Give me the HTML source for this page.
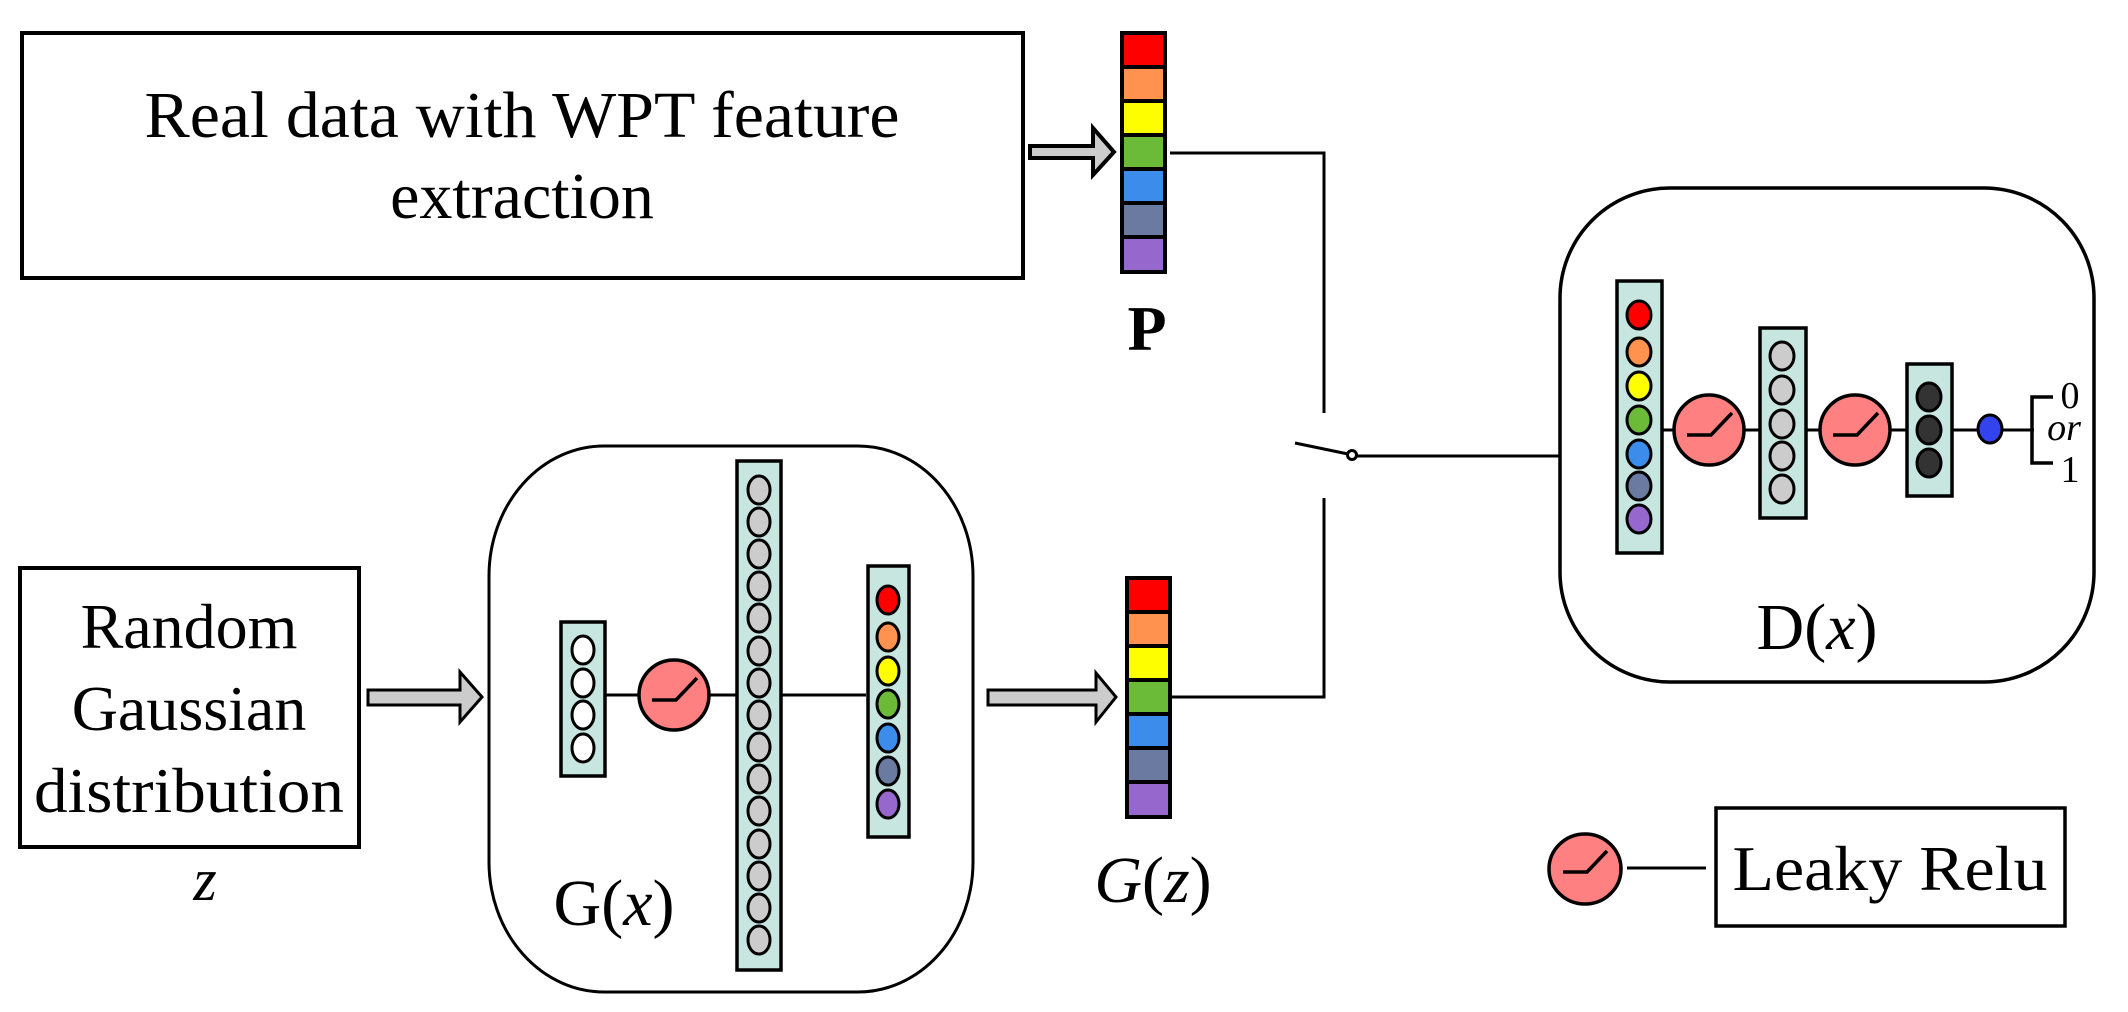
<!DOCTYPE html>
<html><head><meta charset="utf-8"><style>html,body{margin:0;padding:0;background:#fff}svg{display:block}</style></head>
<body>
<svg width="2128" height="1012" viewBox="0 0 2128 1012" xmlns="http://www.w3.org/2000/svg" font-family="'Liberation Serif', serif">
<defs>
<g id="relu">
<circle r="35" fill="#fe8080" stroke="#000" stroke-width="3.5"/>
<polyline points="-22,5 2,5 23,-17" fill="none" stroke="#000" stroke-width="3.5"/>
</g>
</defs>
<rect x="22" y="33" width="1001" height="245" fill="#fff" stroke="#000" stroke-width="4"/>
<text x="522" y="137" font-size="66" text-anchor="middle" textLength="755" lengthAdjust="spacingAndGlyphs">Real data with WPT feature</text>
<text x="522" y="218" font-size="66" text-anchor="middle">extraction</text>
<polygon points="1030,146 1093,146 1093,128 1114,152 1093,175 1093,158 1030,158" fill="#ccc" stroke="#000" stroke-width="4"/>
<g stroke="#000" stroke-width="4">
<rect x="1122" y="33" width="43" height="34" fill="#fe0000"/>
<rect x="1122" y="67" width="43" height="34" fill="#fe924e"/>
<rect x="1122" y="101" width="43" height="34" fill="#fefe00"/>
<rect x="1122" y="135" width="43" height="34" fill="#6bbb38"/>
<rect x="1122" y="169" width="43" height="34" fill="#3c8ceb"/>
<rect x="1122" y="203" width="43" height="34" fill="#6b7aa1"/>
<rect x="1122" y="237" width="43" height="35" fill="#9667cd"/>
</g>
<text x="1147" y="350" font-size="64" font-weight="bold" text-anchor="middle">P</text>
<polyline points="1170,153 1324,153 1324,413" fill="none" stroke="#000" stroke-width="3"/>
<polyline points="1170,697 1324,697 1324,498" fill="none" stroke="#000" stroke-width="3"/>
<line x1="1295" y1="443" x2="1348" y2="454" stroke="#000" stroke-width="3"/>
<circle cx="1352" cy="455" r="4.5" fill="#fff" stroke="#000" stroke-width="3"/>
<line x1="1357" y1="456" x2="1560" y2="456" stroke="#000" stroke-width="3"/>
<rect x="20" y="568" width="339" height="279" fill="#fff" stroke="#000" stroke-width="4"/>
<text x="189" y="648" font-size="64" text-anchor="middle">Random</text>
<text x="189" y="730" font-size="64" text-anchor="middle">Gaussian</text>
<text x="189" y="812" font-size="64" text-anchor="middle" textLength="310" lengthAdjust="spacingAndGlyphs">distribution</text>
<text x="205" y="900" font-size="60" font-style="italic" text-anchor="middle">z</text>
<polygon points="368,690 460,690 460,672 482,697 460,722 460,705 368,705" fill="#ccc" stroke="#000" stroke-width="3"/>
<rect x="489" y="446" width="484" height="546" rx="115" ry="130" fill="#fff" stroke="#000" stroke-width="3"/>
<line x1="605" y1="695" x2="866" y2="695" stroke="#000" stroke-width="3"/>
<rect x="561" y="622" width="44" height="154" fill="#c8e6e0" stroke="#000" stroke-width="3.5"/>
<g fill="#fff" stroke="#000" stroke-width="3">
<ellipse cx="583" cy="650" rx="11" ry="14"/><ellipse cx="583" cy="683" rx="11" ry="14"/>
<ellipse cx="583" cy="715" rx="11" ry="14"/><ellipse cx="583" cy="748" rx="11" ry="14"/>
</g>
<use href="#relu" x="674" y="695"/>
<rect x="737" y="461" width="44" height="509" fill="#c8e6e0" stroke="#000" stroke-width="3.5"/>
<g fill="#ccc" stroke="#000" stroke-width="3">
<ellipse cx="759" cy="490" rx="11" ry="14"/><ellipse cx="759" cy="522" rx="11" ry="14"/>
<ellipse cx="759" cy="554" rx="11" ry="14"/><ellipse cx="759" cy="586" rx="11" ry="14"/>
<ellipse cx="759" cy="618" rx="11" ry="14"/><ellipse cx="759" cy="651" rx="11" ry="14"/>
<ellipse cx="759" cy="683" rx="11" ry="14"/><ellipse cx="759" cy="715" rx="11" ry="14"/>
<ellipse cx="759" cy="747" rx="11" ry="14"/><ellipse cx="759" cy="779" rx="11" ry="14"/>
<ellipse cx="759" cy="811" rx="11" ry="14"/><ellipse cx="759" cy="844" rx="11" ry="14"/>
<ellipse cx="759" cy="876" rx="11" ry="14"/><ellipse cx="759" cy="908" rx="11" ry="14"/>
<ellipse cx="759" cy="940" rx="11" ry="14"/>
</g>
<rect x="868" y="566" width="41" height="271" fill="#c8e6e0" stroke="#000" stroke-width="3.5"/>
<g stroke="#000" stroke-width="3">
<ellipse cx="888" cy="600" rx="11" ry="14" fill="#fe0000"/>
<ellipse cx="888" cy="637" rx="11" ry="14" fill="#fe924e"/>
<ellipse cx="888" cy="671" rx="11" ry="14" fill="#fefe00"/>
<ellipse cx="888" cy="704" rx="11" ry="14" fill="#6bbb38"/>
<ellipse cx="888" cy="738" rx="11" ry="14" fill="#3c8ceb"/>
<ellipse cx="888" cy="771" rx="11" ry="14" fill="#6b7aa1"/>
<ellipse cx="888" cy="804" rx="11" ry="14" fill="#9667cd"/>
</g>
<text x="614" y="925" font-size="66" text-anchor="middle">G(<tspan font-style="italic">x</tspan>)</text>
<polygon points="988,690 1096,690 1096,673 1116,697 1096,722 1096,705 988,705" fill="#ccc" stroke="#000" stroke-width="3"/>
<g stroke="#000" stroke-width="4">
<rect x="1127" y="578" width="43" height="34" fill="#fe0000"/>
<rect x="1127" y="612" width="43" height="34" fill="#fe924e"/>
<rect x="1127" y="646" width="43" height="34" fill="#fefe00"/>
<rect x="1127" y="680" width="43" height="34" fill="#6bbb38"/>
<rect x="1127" y="714" width="43" height="34" fill="#3c8ceb"/>
<rect x="1127" y="748" width="43" height="34" fill="#6b7aa1"/>
<rect x="1127" y="782" width="43" height="35" fill="#9667cd"/>
</g>
<text x="1153" y="902" font-size="66" text-anchor="middle"><tspan font-style="italic">G</tspan>(<tspan font-style="italic">z</tspan>)</text>
<rect x="1560" y="188" width="534" height="494" rx="110" ry="110" fill="#fff" stroke="#000" stroke-width="3.5"/>
<line x1="1662" y1="430" x2="2034" y2="430" stroke="#000" stroke-width="3"/>
<polyline points="2053,397 2032,397 2032,463 2053,463" fill="none" stroke="#000" stroke-width="3.5"/>
<rect x="1617" y="281" width="45" height="272" fill="#c8e6e0" stroke="#000" stroke-width="3.5"/>
<g stroke="#000" stroke-width="3">
<ellipse cx="1639" cy="315" rx="12" ry="14" fill="#fe0000"/>
<ellipse cx="1639" cy="352" rx="12" ry="14" fill="#fe924e"/>
<ellipse cx="1639" cy="386" rx="12" ry="14" fill="#fefe00"/>
<ellipse cx="1639" cy="420" rx="12" ry="14" fill="#6bbb38"/>
<ellipse cx="1639" cy="454" rx="12" ry="14" fill="#3c8ceb"/>
<ellipse cx="1639" cy="486" rx="12" ry="14" fill="#6b7aa1"/>
<ellipse cx="1639" cy="519" rx="12" ry="14" fill="#9667cd"/>
</g>
<use href="#relu" x="1709" y="430"/>
<rect x="1760" y="328" width="46" height="190" fill="#c8e6e0" stroke="#000" stroke-width="3.5"/>
<g fill="#ccc" stroke="#000" stroke-width="3">
<ellipse cx="1782" cy="356" rx="12" ry="14"/><ellipse cx="1782" cy="390" rx="12" ry="14"/>
<ellipse cx="1782" cy="424" rx="12" ry="14"/><ellipse cx="1782" cy="456" rx="12" ry="14"/>
<ellipse cx="1782" cy="489" rx="12" ry="14"/>
</g>
<use href="#relu" x="1855" y="430"/>
<rect x="1907" y="364" width="45" height="132" fill="#c8e6e0" stroke="#000" stroke-width="3.5"/>
<g fill="#333" stroke="#000" stroke-width="3">
<ellipse cx="1929" cy="397" rx="12" ry="14"/><ellipse cx="1929" cy="430" rx="12" ry="14"/>
<ellipse cx="1929" cy="463" rx="12" ry="14"/>
</g>
<ellipse cx="1990" cy="429" rx="12" ry="14" fill="#3344ee" stroke="#000" stroke-width="3"/>
<text x="2070" y="408" font-size="38" text-anchor="middle">0</text>
<text x="2064" y="440" font-size="38" font-style="italic" text-anchor="middle">or</text>
<text x="2070" y="482" font-size="38" text-anchor="middle">1</text>
<text x="1817" y="649" font-size="66" text-anchor="middle">D(<tspan font-style="italic">x</tspan>)</text>
<g transform="translate(1585,869)">
<ellipse rx="36" ry="35" fill="#fe8080" stroke="#000" stroke-width="3.5"/>
<polyline points="-22,3 2,3 22,-18" fill="none" stroke="#000" stroke-width="3.5"/>
</g>
<line x1="1627" y1="868" x2="1706" y2="868" stroke="#000" stroke-width="3"/>
<rect x="1716" y="808" width="349" height="118" fill="#fff" stroke="#000" stroke-width="3.5"/>
<text x="1890" y="890" font-size="64" text-anchor="middle" textLength="315" lengthAdjust="spacingAndGlyphs">Leaky Relu</text>
</svg>
</body></html>
